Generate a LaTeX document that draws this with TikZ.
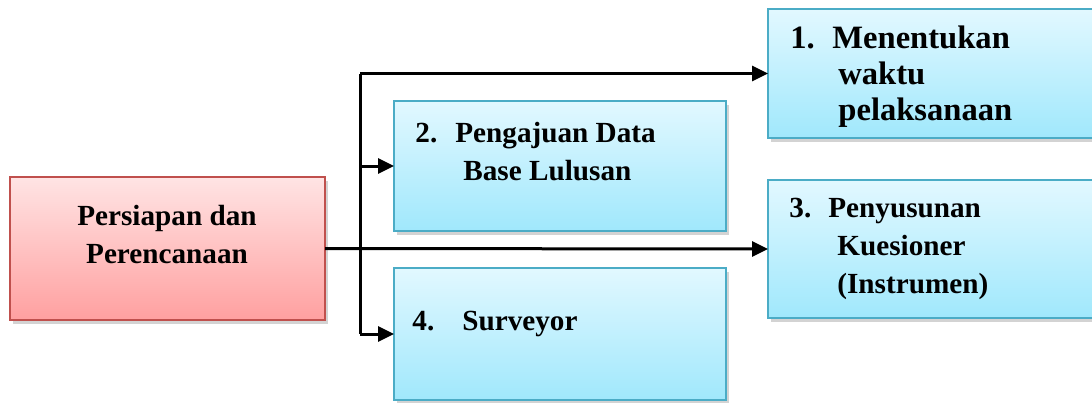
\documentclass[tikz,border=0pt]{standalone}
\usepackage{fontspec}
\setmainfont{Liberation Serif}
\usepackage{xcolor}
\usetikzlibrary{arrows.meta, positioning, shadows}

\definecolor{redfill}{RGB}{255,160,160}
\definecolor{redtop}{RGB}{255,228,228}
\definecolor{redline}{RGB}{192,80,77}
\definecolor{bluefill}{RGB}{160,232,252}
\definecolor{bluetop}{RGB}{226,248,255}
\definecolor{blueline}{RGB}{75,172,198}

\begin{document}
\begin{tikzpicture}[
    x=0.5pt, y=-0.5pt,
    redbox/.style={
        rectangle, draw=redline, line width=1pt,
        top color=redtop, bottom color=redfill,
        drop shadow={shadow xshift=1.5pt, shadow yshift=-2pt, opacity=0.35},
        inner sep=0pt, outer sep=0pt
    },
    bluebox/.style={
        rectangle, draw=blueline, line width=1pt,
        top color=bluetop, bottom color=bluefill,
        drop shadow={shadow xshift=1.5pt, shadow yshift=-2pt, opacity=0.35},
        inner sep=0pt, outer sep=0pt
    },
    lbl/.style={font=\fontsize{14.6}{19}\selectfont\bfseries, inner sep=0pt},
    conn/.style={line width=1.5pt},
    arrow/.style={-{Triangle[length=8pt, width=7.5pt]}, line width=1.5pt},
]
\useasboundingbox (0,0) rectangle (1092,402);

% Kotak
\node[redbox, minimum width=157.5pt, minimum height=71.5pt] (prep) at (167.5,248.5) {};
\node[bluebox, minimum width=165pt, minimum height=64.5pt] (b1) at (933,73.5) {};
\node[bluebox, minimum width=166pt, minimum height=65pt] (b2) at (560,166) {};
\node[bluebox, minimum width=165pt, minimum height=69pt] (b3) at (933,249) {};
\node[bluebox, minimum width=166pt, minimum height=66pt] (b4) at (560,334) {};

% Teks (anchor base = baris terakhir)
\node[lbl, align=center, anchor=base] (tprep) at (167,263)
    {Persiapan dan\\Perencanaan};
\node[lbl, font=\fontsize{16.3}{18}\selectfont\bfseries, align=left, anchor=base west] (t1) at (790,120)
    {\makebox[21pt][l]{1.}Menentukan\\\hspace*{24pt}waktu\\\hspace*{24pt}pelaksanaan};
\node[lbl, align=left, anchor=base west] (t2) at (415,180)
    {\makebox[20pt][l]{2.}Pengajuan Data\\\hspace*{24pt}Base Lulusan};
\node[lbl, align=left, anchor=base west] (t3) at (789,293)
    {\makebox[19.5pt][l]{3.}Penyusunan\\\hspace*{24pt}Kuesioner\\\hspace*{24pt}(Instrumen)};
\node[lbl, align=left, anchor=base west] (t4) at (412,330)
    {\makebox[25pt][l]{4.}Surveyor};

% Garis penghubung
\coordinate (jtop) at (360,73.5);
\coordinate (jbot) at (360,334);
\draw[conn] (jtop) -- (jbot);
\draw[arrow] (prep.east) -- (b3.west);
\draw[arrow] (jtop) -- (b1.west);
\draw[arrow] (jtop |- b2.west) -- (b2.west);
\draw[arrow] (jbot) -- (b4.west);

\end{tikzpicture}
\end{document}
